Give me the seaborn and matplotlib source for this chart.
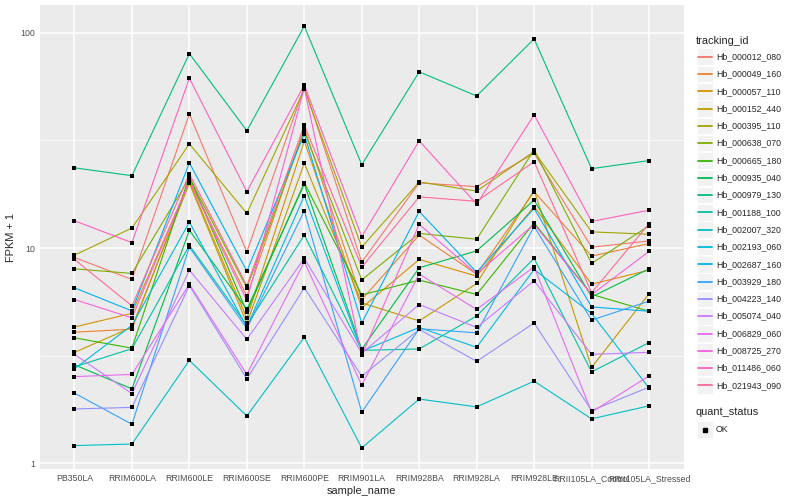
import numpy as np
import pandas as pd
import matplotlib
matplotlib.use("Agg")
import matplotlib.pyplot as plt
from matplotlib.ticker import FixedLocator, NullFormatter
from matplotlib.patches import Rectangle
from matplotlib.lines import Line2D
import seaborn as sns

samples = ["PB350LA", "RRIM600LA", "RRIM600LE", "RRIM600SE", "RRIM600PE", "RRIM901LA",
           "RRIM928BA", "RRIM928LA", "RRIM928LE", "RRII105LA_Control", "RRII105LA_Stressed"]

tracking_ids = ["Hb_000012_080", "Hb_000049_160", "Hb_000057_110", "Hb_000152_440",
                "Hb_000395_110", "Hb_000638_070", "Hb_000665_180", "Hb_000935_040",
                "Hb_000979_130", "Hb_001188_100", "Hb_002007_320", "Hb_002193_060",
                "Hb_002687_160", "Hb_003929_180", "Hb_004223_140", "Hb_005074_040",
                "Hb_006829_060", "Hb_008725_270", "Hb_011486_060", "Hb_021943_090"]

# FPKM + 1, one row per tracking_id, one value per sample
fpkm = [
    [9.05, 7.15, 42.0, 9.6, 56.0, 8.61, 20.1, 19.3, 27.6, 10.1, 10.8],
    [4.07, 4.20, 20.7, 5.98, 36.1, 5.77, 11.5, 7.57, 18.3, 9.18, 10.5],
    [4.30, 4.98, 20.3, 4.72, 31.4, 5.28, 8.86, 7.41, 15.6, 6.80, 7.90],
    [3.28, 4.29, 20.0, 4.47, 24.8, 5.57, 4.59, 6.85, 18.6, 2.79, 6.13],
    [9.28, 12.4, 30.5, 14.5, 54.8, 10.1, 20.3, 18.4, 28.1, 11.9, 11.6],
    [8.01, 7.63, 21.2, 6.54, 34.9, 7.12, 11.7, 11.0, 28.6, 8.49, 12.7],
    [3.83, 3.43, 21.6, 5.05, 20.1, 6.06, 7.10, 6.09, 13.1, 6.10, 5.09],
    [2.87, 2.22, 12.1, 5.19, 19.8, 3.39, 8.10, 9.71, 16.7, 5.94, 8.01],
    [23.6, 21.7, 80.1, 35.1, 107.5, 24.4, 65.9, 50.9, 93.8, 23.4, 25.5],
    [2.81, 3.41, 10.3, 4.38, 11.5, 3.35, 3.40, 4.84, 8.96, 2.66, 3.64],
    [1.21, 1.23, 3.01, 1.66, 3.85, 1.18, 1.99, 1.83, 2.41, 1.61, 1.85],
    [2.75, 4.38, 13.2, 4.30, 17.5, 3.32, 4.28, 3.46, 7.96, 4.97, 2.24],
    [6.54, 5.11, 24.9, 7.82, 33.8, 4.49, 14.8, 7.73, 15.3, 5.33, 5.09],
    [2.12, 1.52, 10.1, 4.23, 14.9, 1.73, 4.22, 4.04, 12.6, 4.63, 5.67],
    [1.79, 1.82, 6.7, 2.47, 6.54, 2.54, 4.19, 2.98, 4.49, 1.76, 2.26],
    [3.21, 2.11, 7.9, 3.77, 8.96, 3.25, 5.47, 4.28, 7.05, 3.21, 3.28],
    [2.53, 2.59, 6.8, 2.59, 8.63, 2.31, 7.57, 5.19, 8.19, 1.73, 2.55],
    [5.77, 4.74, 20.5, 5.72, 55.4, 3.18, 12.9, 7.60, 12.9, 6.08, 9.65],
    [13.4, 10.6, 61.6, 18.3, 57.3, 11.3, 31.5, 16.0, 41.6, 13.3, 15.0],
    [8.86, 5.39, 22.1, 6.68, 37.3, 8.16, 17.3, 16.5, 25.2, 6.20, 13.0],
]

quant_status = "OK"


# ggplot2 style hue palette (HCL, c=100, l=65)
def hcl2hex(h, c=100, l=65):
    hr = np.deg2rad(h)
    u, v = c * np.cos(hr), c * np.sin(hr)
    Xn, Yn, Zn = 95.047, 100.0, 108.883
    un = 4 * Xn / (Xn + 15 * Yn + 3 * Zn)
    vn = 9 * Yn / (Xn + 15 * Yn + 3 * Zn)
    Y = Yn * ((l + 16) / 116) ** 3
    up = u / (13 * l) + un
    vp = v / (13 * l) + vn
    X = Y * 9 * up / (4 * vp)
    Z = Y * (12 - 3 * up - 20 * vp) / (4 * vp)
    M = np.array([[3.2404542, -1.5371385, -0.4985314],
                  [-0.9692660, 1.8760108, 0.0415560],
                  [0.0556434, -0.2040259, 1.0572252]])
    rgb = M @ (np.array([X, Y, Z]) / 100)
    rgb = np.where(rgb <= 0.0031308, 12.92 * rgb, 1.055 * np.abs(rgb) ** (1 / 2.4) - 0.055)
    return tuple(float(c_) for c_ in np.clip(rgb, 0, 1))


n = len(tracking_ids)
colors = [hcl2hex(15 + 360 * i / n) for i in range(n)]

rows = []
for tid, vals in zip(tracking_ids, fpkm):
    for s, v in zip(samples, vals):
        rows.append({"tracking_id": tid, "sample_name": s, "FPKM": v, "quant_status": quant_status})
df = pd.DataFrame(rows)

sns.set_style("white")
plt.rcParams["font.family"] = ["Liberation Sans", "DejaVu Sans"]

W, H = 800, 500
fig = plt.figure(figsize=(8, 5), dpi=100)
fx = lambda px: px / W
fy = lambda py: 1 - py / H

ax = fig.add_axes([fx(40), fy(469), fx(683.5) - fx(40), fy(5) - fy(469)])
ax.set_facecolor("#EBEBEB")

sns.lineplot(data=df, x="sample_name", y="FPKM", hue="tracking_id", palette=colors,
             hue_order=tracking_ids, estimator=None, sort=False, lw=0.8, legend=False, ax=ax)
sns.scatterplot(data=df, x="sample_name", y="FPKM", color="black", marker="s", s=7,
                linewidth=0, legend=False, ax=ax, zorder=5)

ax.set_yscale("log")
lo, hi = np.log10(df["FPKM"].min()), np.log10(df["FPKM"].max())
pad = (hi - lo) * 0.05
ax.set_ylim(10 ** (lo - pad), 10 ** (hi + pad))
ax.set_xlim(-0.6, len(samples) - 0.4)

ax.yaxis.set_major_locator(FixedLocator([1, 10, 100]))
ax.yaxis.set_minor_locator(FixedLocator([10 ** 0.5, 10 ** 1.5]))
ax.yaxis.set_minor_formatter(NullFormatter())
ax.set_yticklabels(["1", "10", "100"])
ax.set_xticks(range(len(samples)))
ax.set_xticklabels(samples)

ax.grid(which="major", color="white", lw=1.1)
ax.grid(which="minor", axis="y", color="white", lw=0.55)
ax.set_axisbelow(True)
for sp in ax.spines.values():
    sp.set_visible(False)
ax.tick_params(which="major", length=2.0, width=0.8, color="#333333", labelcolor="#4D4D4D",
               labelsize=6.3, pad=1.5)
ax.tick_params(which="minor", length=0)
ax.set_xlabel("sample_name", fontsize=7.9, labelpad=2)
ax.set_ylabel("FPKM + 1", fontsize=7.9, labelpad=3)

# legend: tracking_id
tf = fig.transFigure
fig.text(fx(696), fy(41), "tracking_id", fontsize=7.9, va="center", ha="left")
for i, (tid, col) in enumerate(zip(tracking_ids, colors)):
    yc = 56.7 + i * 17.3
    fig.add_artist(Rectangle((fx(696.5), fy(yc + 8.3)), fx(16.5), 16.6 / H, transform=tf,
                             facecolor="#F2F2F2", edgecolor="white", lw=0.6, zorder=1))
    fig.add_artist(Line2D([fx(698), fx(711.5)], [fy(yc), fy(yc)], transform=tf,
                          color=col, lw=1.3, zorder=3))
    fig.text(fx(716.5), fy(yc), tid, fontsize=6.3, va="center", ha="left")

# legend: quant_status
fig.text(fx(696), fy(412), "quant_status", fontsize=7.9, va="center", ha="left")
yc = 429.7
fig.add_artist(Rectangle((fx(696.5), fy(yc + 8.3)), fx(16.5), 16.6 / H, transform=tf,
                         facecolor="#F2F2F2", edgecolor="white", lw=0.6, zorder=1))
fig.add_artist(Line2D([fx(704.7)], [fy(yc)], transform=tf, marker="s", ms=2.6,
                      color="black", lw=0, zorder=3))
fig.text(fx(716), fy(yc), quant_status, fontsize=6.3, va="center", ha="left")

fig.savefig("out.png", dpi=100)
